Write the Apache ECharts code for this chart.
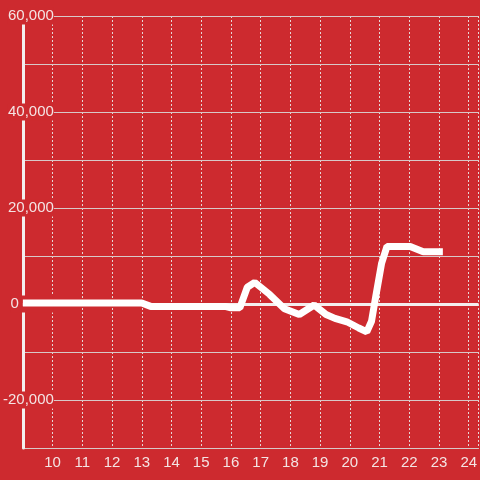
<!DOCTYPE html>
<html>
<head>
<meta charset="utf-8">
<script src="https://cdn.jsdelivr.net/npm/echarts@6/dist/echarts.min.js"></script>
<style>html,body{margin:0;padding:0;background:#cd2a2f;}#c{width:480px;height:480px;}</style>
</head>
<body>
<div id="c"></div>
<script>
var xValues = [9, 13, 13.3, 15.8, 16.0, 16.3, 16.55, 16.8, 17.3, 17.8, 18.3, 18.8, 19.2, 19.5, 19.9, 20.3, 20.57, 20.73, 20.87, 21.07, 21.25, 22.03, 22.47, 23.13];
var yValues = [200, 200, -500, -500, -800, -800, 3500, 4500, 2000, -1000, -2200, -200, -2200, -3000, -3700, -5000, -5800, -3600, 1500, 8500, 12000, 12000, 10900, 10900];
var xTicks = [10, 11, 12, 13, 14, 15, 16, 17, 18, 19, 20, 21, 22, 23, 24];
var yLabelled = [60000, 40000, 20000, 0, -20000];

var bg = '#cd2a2f';
var data = xValues.map(function (x, i) { return [x, yValues[i]]; });
var chart = echarts.init(document.getElementById('c'));
chart.setOption({
  backgroundColor: bg,
  animation: false,
  grid: { left: 20, right: 0, top: 16, bottom: 32, containLabel: false },
  xAxis: {
    type: 'value', min: 9, max: 24.33, interval: 1,
    axisLine: { show: true, onZero: false, lineStyle: { color: '#d9c5c5', width: 1 } },
    axisTick: { show: false },
    axisLabel: {
      color: '#f4e4e4', fontSize: 15, fontFamily: 'Liberation Sans, Arial', margin: 7,
      showMaxLabel: false,
      formatter: function (v) { return xTicks.indexOf(v) >= 0 ? String(v) : ''; }
    },
    splitLine: { show: true, lineStyle: { color: '#e6d6d6', type: [2, 2], width: 1 } }
  },
  yAxis: {
    type: 'value', min: -30000, max: 60000, interval: 10000, z: 10,
    axisLine: { show: true, lineStyle: { color: '#f4eeee', width: 3 } },
    axisTick: { show: false },
    axisLabel: {
      color: '#f4e4e4', fontSize: 15, fontFamily: 'Liberation Sans, Arial', margin: -31,
      backgroundColor: bg, padding: [1, 0, 1, 0],
      formatter: function (v) {
        if (yLabelled.indexOf(v) < 0) return '';
        if (v === 0) return '{z|0}';
        return v.toLocaleString('en-US');
      },
      rich: { z: { color: '#f4e4e4', fontSize: 15, fontFamily: 'Liberation Sans, Arial', padding: [0, 35, 0, 0] } }
    },
    splitLine: { show: true, lineStyle: { color: '#d8c8c8', width: 1 } }
  },
  series: [{
    type: 'line', data: data, showSymbol: false, symbol: 'none', z: 20,
    lineStyle: { color: '#ffffff', width: 7 },
    markLine: {
      silent: true, symbol: 'none', label: { show: false }, z: 20,
      lineStyle: { color: '#f4eeee', width: 3, type: 'solid' },
      data: [{ yAxis: 0 }]
    }
  }]
});
</script>
</body>
</html>
